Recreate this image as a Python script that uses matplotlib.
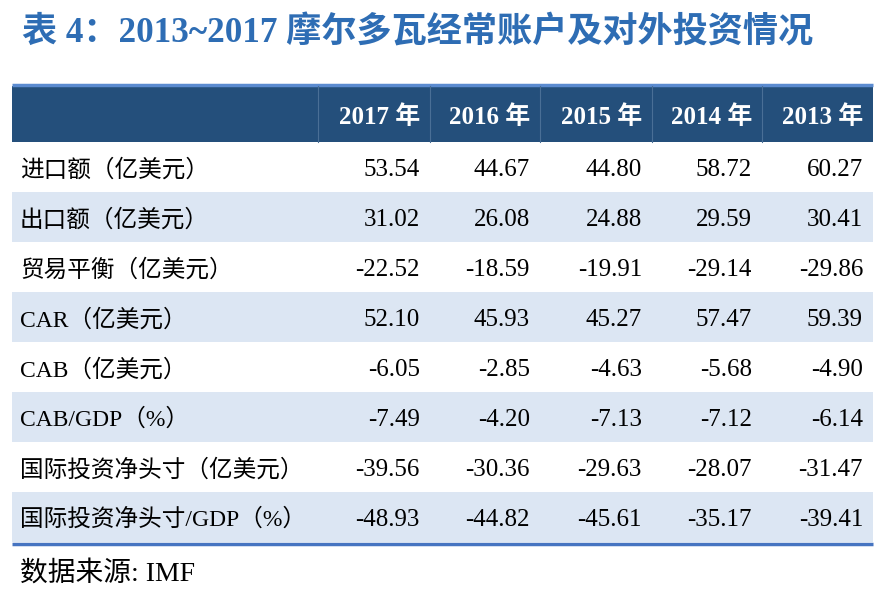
import matplotlib
matplotlib.use("Agg")
import matplotlib.pyplot as plt
from matplotlib.patches import Rectangle

title = "表 4：2013~2017 摩尔多瓦经常账户及对外投资情况"
source = "数据来源: IMF"
years = ["2017 年", "2016 年", "2015 年", "2014 年", "2013 年"]
row_labels = ["进口额（亿美元）", "出口额（亿美元）", "贸易平衡（亿美元）", "CAR（亿美元）",
              "CAB（亿美元）", "CAB/GDP（%）", "国际投资净头寸（亿美元）", "国际投资净头寸/GDP（%）"]
values = [
    ["53.54", "44.67", "44.80", "58.72", "60.27"],
    ["31.02", "26.08", "24.88", "29.59", "30.41"],
    ["-22.52", "-18.59", "-19.91", "-29.14", "-29.86"],
    ["52.10", "45.93", "45.27", "57.47", "59.39"],
    ["-6.05", "-2.85", "-4.63", "-5.68", "-4.90"],
    ["-7.49", "-4.20", "-7.13", "-7.12", "-6.14"],
    ["-39.56", "-30.36", "-29.63", "-28.07", "-31.47"],
    ["-48.93", "-44.82", "-45.61", "-35.17", "-39.41"],
]

serif = ["Liberation Serif", "Noto Sans CJK SC"]

fig = plt.figure(figsize=(8.82, 5.94), dpi=100)
ax = fig.add_axes([0, 0, 1, 1])
ax.set_xlim(0, 882)
ax.set_ylim(594, 0)
ax.axis("off")

left, right = 12, 873
col_edges = [318, 430, 540, 652, 762, 873]
head_top, head_bot = 86, 142
row_h = 50

ax.text(22, 33, title, fontsize=25.3, fontweight="bold", color="#2E6DB4",
        family=serif, va="center", ha="left")

# header
ax.add_patch(Rectangle((left, head_top), right - left, head_bot - head_top,
                       facecolor="#244F7B", edgecolor="none"))
ax.plot([left, right], [84.5, 84.5], color="#5B8BD0", lw=2.5, solid_capstyle="butt")
for x in col_edges[:-1]:
    ax.plot([x, x], [head_top, head_bot], color="#4A6F96", lw=0.8)
for j, y in enumerate(years):
    ax.text(col_edges[j + 1] - 10, (head_top + head_bot) / 2 + 3, y, fontsize=18,
            fontweight="bold", color="white", family=serif, ha="right", va="center")

# body
for i, lab in enumerate(row_labels):
    y0 = head_bot + i * row_h
    if i % 2 == 1:
        ax.add_patch(Rectangle((left, y0), right - left, row_h,
                               facecolor="#DCE6F3", edgecolor="none"))
    yc = y0 + row_h / 2 + 3
    ax.text(20, yc, lab, fontsize=17, color="black", family=serif, ha="left", va="center")
    for j, v in enumerate(values[i]):
        ax.text(col_edges[j + 1] - 10, yc, v, fontsize=18, color="black",
                family=serif, ha="right", va="center")

bottom = head_bot + len(row_labels) * row_h
ax.plot([left, right], [bottom + 2, bottom + 2], color="#4674C1", lw=2.5, solid_capstyle="butt")

ax.text(20, 574, source, fontsize=20, color="black", family=serif, ha="left", va="center")

fig.savefig("out.png", dpi=100)
